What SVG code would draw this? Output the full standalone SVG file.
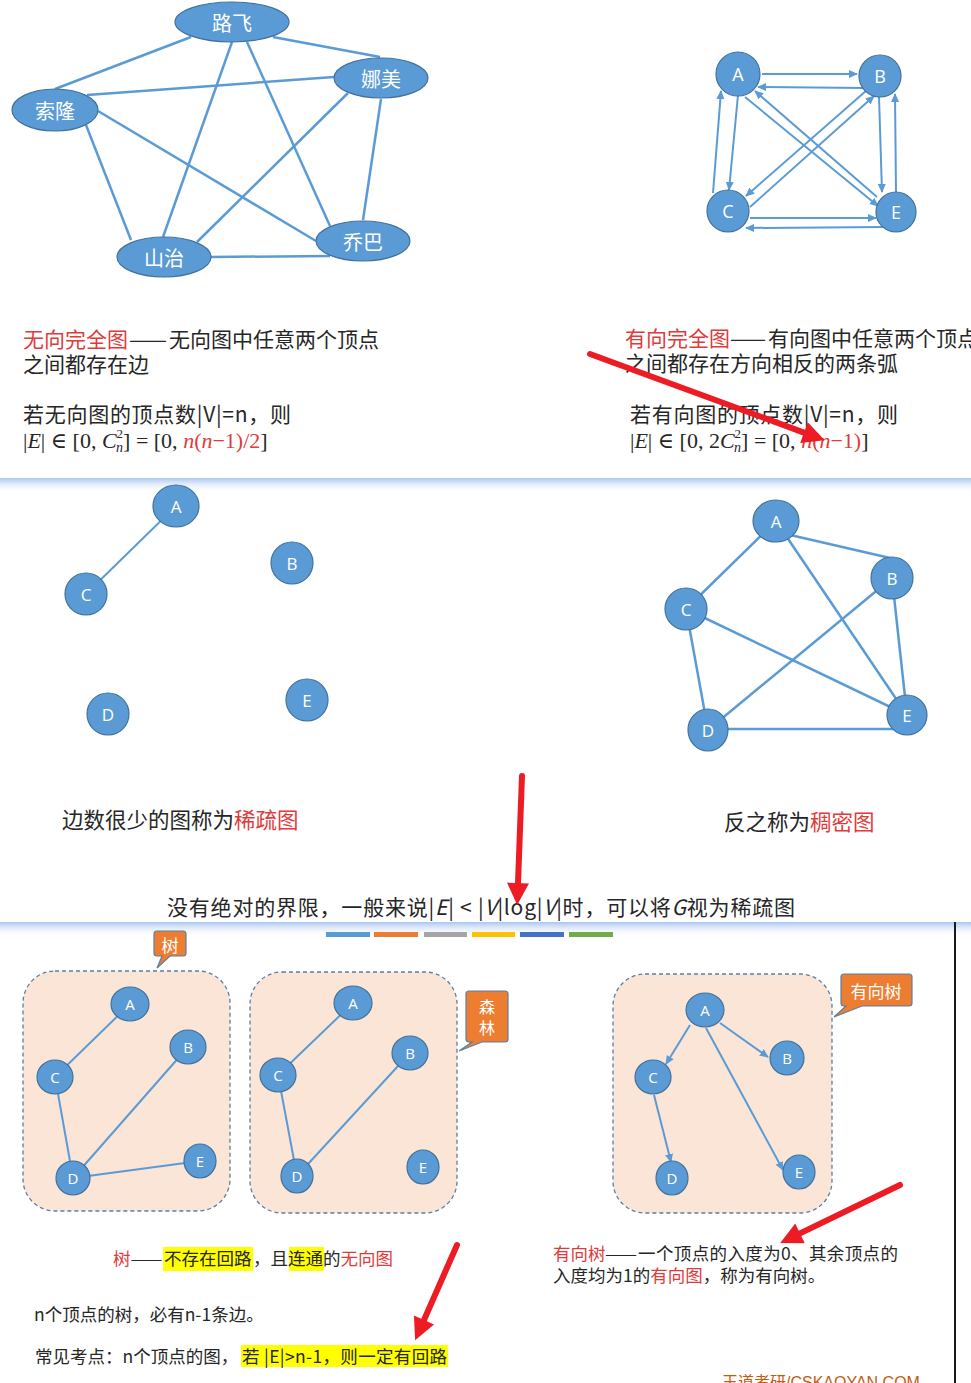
<svg xmlns="http://www.w3.org/2000/svg" width="971" height="1383" viewBox="0 0 971 1383">
<defs>
<style>
.cn{font-family:"Noto Sans CJK SC","Noto Sans",sans-serif;}
.e{stroke:#5B9BD5;stroke-width:2.5;fill:none;}
.e2{stroke:#5B9BD5;stroke-width:2;fill:none;}
.nd{fill:#5B9BD5;stroke:#41719C;stroke-width:1.2;}
.lbl{fill:#FFFFFF;font-family:"Noto Sans CJK SC","Noto Sans",sans-serif;text-anchor:middle;dominant-baseline:central;}
.ltr{fill:#FFFFFF;font-family:"Open Sans","Liberation Sans",sans-serif;text-anchor:middle;dominant-baseline:central;}
.red{fill:#E03A3A;}
.dk{fill:#262626;}
.box{fill:#FBE5D6;stroke:#5A7FA6;stroke-width:1.3;stroke-dasharray:4 3;}
.call{fill:#ED7D31;stroke:#5A7FA6;stroke-width:1.2;}
.ra{stroke:#ED1C24;stroke-width:6;stroke-linecap:round;fill:none;}
.hl{fill:#FFFF00;}
</style>
<marker id="ah" viewBox="0 0 10 10" refX="9" refY="5" markerWidth="9" markerHeight="9" markerUnits="userSpaceOnUse" orient="auto"><path d="M0,0.5 L10,5 L0,9.5 z" fill="#5B9BD5"/></marker>
<marker id="rh" viewBox="0 0 10 10" refX="0" refY="5" markerWidth="24" markerHeight="22" markerUnits="userSpaceOnUse" orient="auto"><path d="M0,0 L10,5 L0,10 z" fill="#ED1C24"/></marker>
<linearGradient id="sep" x1="0" y1="0" x2="0" y2="1"><stop offset="0" stop-color="#A9C5EE"/><stop offset="1" stop-color="#FFFFFF" stop-opacity="0"/></linearGradient>
</defs>
<rect x="0" y="0" width="971" height="1383" fill="#FFFFFF"/>

<!-- separators -->
<rect x="0" y="478" width="971" height="15" fill="url(#sep)"/>
<rect x="0" y="922" width="971" height="15" fill="url(#sep)"/>
<line x1="955" y1="922" x2="955" y2="1383" stroke="#1A1A1A" stroke-width="2"/>
<g id="bars">
<rect x="326" y="932" width="44" height="5" fill="#5B9BD5"/>
<rect x="374" y="932" width="44" height="5" fill="#ED7D31"/>
<rect x="424" y="932" width="43" height="5" fill="#A5A5A5"/>
<rect x="472" y="932" width="43" height="5" fill="#FFC000"/>
<rect x="520" y="932" width="44" height="5" fill="#4472C4"/>
<rect x="569" y="932" width="44" height="5" fill="#70AD47"/>
</g>

<!-- dashed boxes and callouts -->
<rect class="box" x="23" y="971" width="207" height="240" rx="32"/>
<rect class="box" x="250" y="972" width="207" height="241" rx="32"/>
<rect class="box" x="613" y="974" width="219" height="239" rx="32"/>
<g id="callout-shu">
<path class="call" d="M157,931 H183 Q186,931 186,934 V953 Q186,956 183,956 H170 L157,968 L162,956 H157 Q154,956 154,953 V934 Q154,931 157,931 Z"/>
<text class="lbl" x="170" y="944" font-size="17">树</text>
</g>
<g id="callout-senlin">
<path class="call" d="M469,991 H505 Q508,991 508,994 V1039 Q508,1042 505,1042 H482 L459,1051 L472,1042 H469 Q466,1042 466,1039 V994 Q466,991 469,991 Z"/>
<text class="lbl" x="487" y="1006" font-size="16">森</text>
<text class="lbl" x="487" y="1027" font-size="16">林</text>
</g>
<g id="callout-youxiangshu">
<path class="call" d="M844,974 H909 Q912,974 912,977 V1003 Q912,1006 909,1006 H862 L834,1017 L846,1006 H844 Q841,1006 841,1003 V977 Q841,974 844,974 Z"/>
<text class="lbl" x="876" y="990" font-size="17">有向树</text>
</g>

<g id="connectors">
<!-- top-left undirected complete graph -->
<line class="e" x1="191" y1="37" x2="55" y2="89"/>
<line class="e" x1="273" y1="37" x2="380" y2="57"/>
<line class="e" x1="232" y1="42" x2="163" y2="237"/>
<line class="e" x1="247" y1="42" x2="330" y2="226"/>
<line class="e" x1="87" y1="95" x2="334" y2="77"/>
<line class="e" x1="98" y1="111" x2="316" y2="241"/>
<line class="e" x1="86" y1="125" x2="131" y2="240"/>
<line class="e" x1="348" y1="93" x2="197" y2="242"/>
<line class="e" x1="381" y1="99" x2="363" y2="220"/>
<line class="e" x1="211" y1="257" x2="330" y2="256"/>
<!-- top-right directed complete graph -->
<line class="e2" x1="762" y1="74" x2="857" y2="74" marker-end="url(#ah)"/>
<line class="e2" x1="865" y1="88" x2="758" y2="87" marker-end="url(#ah)"/>
<line class="e2" x1="738" y1="95" x2="729" y2="190" marker-end="url(#ah)"/>
<line class="e2" x1="713" y1="193" x2="721" y2="91" marker-end="url(#ah)"/>
<line class="e2" x1="879" y1="97" x2="882" y2="192" marker-end="url(#ah)"/>
<line class="e2" x1="896" y1="192" x2="895" y2="94" marker-end="url(#ah)"/>
<line class="e2" x1="750" y1="218" x2="876" y2="218" marker-end="url(#ah)"/>
<line class="e2" x1="883" y1="227" x2="746" y2="228" marker-end="url(#ah)"/>
<line class="e2" x1="745" y1="97" x2="878" y2="206" marker-end="url(#ah)"/>
<line class="e2" x1="877" y1="197" x2="755" y2="91" marker-end="url(#ah)"/>
<line class="e2" x1="867" y1="90" x2="746" y2="196" marker-end="url(#ah)"/>
<line class="e2" x1="750" y1="207" x2="874" y2="96" marker-end="url(#ah)"/>
<!-- sparse graph -->
<line class="e2" x1="176" y1="506" x2="86" y2="594"/>
<!-- dense graph -->
<line class="e" x1="786" y1="534" x2="890" y2="558"/>
<line class="e" x1="776" y1="521" x2="686" y2="609"/>
<line class="e" x1="776" y1="521" x2="907" y2="715"/>
<line class="e" x1="686" y1="609" x2="907" y2="715"/>
<line class="e" x1="686" y1="609" x2="708" y2="730"/>
<line class="e" x1="892" y1="578" x2="708" y2="730"/>
<line class="e" x1="892" y1="578" x2="907" y2="715"/>
<line class="e" x1="708" y1="729" x2="895" y2="729"/>
<!-- tree -->
<line class="e2" x1="130" y1="1004" x2="55" y2="1077"/>
<line class="e2" x1="55" y1="1077" x2="73" y2="1178"/>
<line class="e2" x1="73" y1="1178" x2="188" y2="1047"/>
<line class="e2" x1="73" y1="1178" x2="200" y2="1161"/>
<!-- forest -->
<line class="e2" x1="353" y1="1003" x2="278" y2="1075"/>
<line class="e2" x1="278" y1="1075" x2="297" y2="1176"/>
<line class="e2" x1="297" y1="1176" x2="410" y2="1053"/>
<!-- directed tree -->
<line class="e2" x1="690" y1="1025" x2="666" y2="1064" marker-end="url(#ah)"/>
<line class="e2" x1="720" y1="1023" x2="768" y2="1057" marker-end="url(#ah)"/>
<line class="e2" x1="706" y1="1028" x2="783" y2="1170" marker-end="url(#ah)"/>
<line class="e2" x1="654" y1="1095" x2="671" y2="1162" marker-end="url(#ah)"/>
</g>

<!-- top-left nodes -->
<g id="n-lufei"><ellipse class="nd" cx="232" cy="22" rx="57" ry="20"/><text class="lbl" x="232" y="22" font-size="20">路飞</text></g>
<g id="n-namei"><ellipse class="nd" cx="381" cy="78" rx="47" ry="20"/><text class="lbl" x="381" y="78" font-size="20">娜美</text></g>
<g id="n-suolong"><ellipse class="nd" cx="55" cy="110" rx="43" ry="21"/><text class="lbl" x="55" y="110" font-size="20">索隆</text></g>
<g id="n-shanzhi"><ellipse class="nd" cx="164" cy="257" rx="47" ry="20"/><text class="lbl" x="164" y="257" font-size="20">山治</text></g>
<g id="n-qiaoba"><ellipse class="nd" cx="363" cy="241" rx="47" ry="20"/><text class="lbl" x="363" y="241" font-size="20">乔巴</text></g>

<!-- top-right nodes -->
<g id="d-A"><circle class="nd" cx="738" cy="74" r="22"/><text class="ltr" x="738" y="74" font-size="18">A</text></g>
<g id="d-B"><circle class="nd" cx="880" cy="76" r="21"/><text class="ltr" x="880" y="76" font-size="18">B</text></g>
<g id="d-C"><circle class="nd" cx="728" cy="211" r="21"/><text class="ltr" x="728" y="211" font-size="18">C</text></g>
<g id="d-E"><circle class="nd" cx="896" cy="212" r="20"/><text class="ltr" x="896" y="212" font-size="18">E</text></g>

<!-- sparse graph nodes -->
<g id="s-A"><ellipse class="nd" cx="176" cy="506" rx="23" ry="21"/><text class="ltr" x="176" y="506" font-size="17">A</text></g>
<g id="s-B"><ellipse class="nd" cx="292" cy="563" rx="21" ry="21"/><text class="ltr" x="292" y="563" font-size="17">B</text></g>
<g id="s-C"><ellipse class="nd" cx="86" cy="594" rx="21" ry="21"/><text class="ltr" x="86" y="594" font-size="17">C</text></g>
<g id="s-D"><ellipse class="nd" cx="108" cy="714" rx="21" ry="21"/><text class="ltr" x="108" y="714" font-size="17">D</text></g>
<g id="s-E"><ellipse class="nd" cx="307" cy="700" rx="21" ry="21"/><text class="ltr" x="307" y="700" font-size="17">E</text></g>

<!-- dense graph nodes -->
<g id="g-A"><ellipse class="nd" cx="776" cy="521" rx="23" ry="21"/><text class="ltr" x="776" y="521" font-size="17">A</text></g>
<g id="g-B"><ellipse class="nd" cx="892" cy="578" rx="21" ry="21"/><text class="ltr" x="892" y="578" font-size="17">B</text></g>
<g id="g-C"><ellipse class="nd" cx="686" cy="609" rx="21" ry="21"/><text class="ltr" x="686" y="609" font-size="17">C</text></g>
<g id="g-D"><ellipse class="nd" cx="708" cy="730" rx="20" ry="21"/><text class="ltr" x="708" y="730" font-size="17">D</text></g>
<g id="g-E"><ellipse class="nd" cx="907" cy="715" rx="20" ry="20"/><text class="ltr" x="907" y="715" font-size="17">E</text></g>

<!-- tree nodes -->
<g id="t-A"><ellipse class="nd" cx="130" cy="1004" rx="19" ry="17"/><text class="ltr" x="130" y="1004" font-size="15">A</text></g>
<g id="t-B"><ellipse class="nd" cx="188" cy="1047" rx="18" ry="17"/><text class="ltr" x="188" y="1047" font-size="15">B</text></g>
<g id="t-C"><ellipse class="nd" cx="55" cy="1077" rx="18" ry="17"/><text class="ltr" x="55" y="1077" font-size="15">C</text></g>
<g id="t-D"><ellipse class="nd" cx="73" cy="1178" rx="17" ry="17"/><text class="ltr" x="73" y="1178" font-size="15">D</text></g>
<g id="t-E"><ellipse class="nd" cx="200" cy="1161" rx="16" ry="17"/><text class="ltr" x="200" y="1161" font-size="15">E</text></g>

<!-- forest nodes -->
<g id="f-A"><ellipse class="nd" cx="353" cy="1003" rx="19" ry="17"/><text class="ltr" x="353" y="1003" font-size="15">A</text></g>
<g id="f-B"><ellipse class="nd" cx="410" cy="1053" rx="18" ry="17"/><text class="ltr" x="410" y="1053" font-size="15">B</text></g>
<g id="f-C"><ellipse class="nd" cx="278" cy="1075" rx="18" ry="17"/><text class="ltr" x="278" y="1075" font-size="15">C</text></g>
<g id="f-D"><ellipse class="nd" cx="297" cy="1176" rx="16" ry="17"/><text class="ltr" x="297" y="1176" font-size="15">D</text></g>
<g id="f-E"><ellipse class="nd" cx="423" cy="1167" rx="16" ry="17"/><text class="ltr" x="423" y="1167" font-size="15">E</text></g>

<!-- directed tree nodes -->
<g id="dt-A"><ellipse class="nd" cx="705" cy="1010" rx="19" ry="17"/><text class="ltr" x="705" y="1010" font-size="15">A</text></g>
<g id="dt-B"><ellipse class="nd" cx="787" cy="1058" rx="17" ry="17"/><text class="ltr" x="787" y="1058" font-size="15">B</text></g>
<g id="dt-C"><ellipse class="nd" cx="653" cy="1077" rx="18" ry="17"/><text class="ltr" x="653" y="1077" font-size="15">C</text></g>
<g id="dt-D"><ellipse class="nd" cx="672" cy="1178" rx="16" ry="17"/><text class="ltr" x="672" y="1178" font-size="15">D</text></g>
<g id="dt-E"><ellipse class="nd" cx="799" cy="1172" rx="16" ry="17"/><text class="ltr" x="799" y="1172" font-size="15">E</text></g>

<!-- texts: slide 1 -->
<g id="txt-left" class="cn dk" font-size="21">
<text x="23" y="347" class="red">无向完全图</text>
<text x="129" y="347" textLength="38" lengthAdjust="spacingAndGlyphs">——</text>
<text x="169" y="347">无向图中任意两个顶点</text>
<text x="23" y="372">之间都存在边</text>
<text x="23" y="422" textLength="268" lengthAdjust="spacing">若无向图的顶点数|V|=n，则</text>
<text x="23" y="448" font-family="'Liberation Serif','DejaVu Serif',serif" font-size="22">|<tspan font-style="italic">E</tspan>| ∈ [0, <tspan font-style="italic">C</tspan><tspan font-size="13" dy="-10">2</tspan><tspan font-size="14" font-style="italic" dx="-7" dy="14">n</tspan><tspan dy="-4">] = [0, </tspan><tspan class="red" font-style="italic">n</tspan><tspan class="red">(</tspan><tspan class="red" font-style="italic">n</tspan><tspan class="red">−1)/2</tspan>]</text>
</g>
<g id="txt-right" class="cn dk" font-size="21">
<text x="625" y="346" class="red">有向完全图</text>
<text x="730" y="346" textLength="36" lengthAdjust="spacingAndGlyphs">——</text>
<text x="768" y="346">有向图中任意两个顶点</text>
<text x="625" y="371">之间都存在方向相反的两条弧</text>
<text x="630" y="422" textLength="268" lengthAdjust="spacing">若有向图的顶点数|V|=n，则</text>
<text x="630" y="448" font-family="'Liberation Serif','DejaVu Serif',serif" font-size="22">|<tspan font-style="italic">E</tspan>| ∈ [0, 2<tspan font-style="italic">C</tspan><tspan font-size="13" dy="-10">2</tspan><tspan font-size="14" font-style="italic" dx="-7" dy="14">n</tspan><tspan dy="-4">] = [0, </tspan><tspan class="red" font-style="italic">n</tspan><tspan class="red">(</tspan><tspan class="red" font-style="italic">n</tspan><tspan class="red">−1)</tspan>]</text>
</g>

<!-- texts: slide 2 -->
<text class="cn dk" x="62" y="828" font-size="21.5">边数很少的图称为<tspan class="red">稀疏图</tspan></text>
<text class="cn dk" x="724" y="830" font-size="21.5">反之称为<tspan class="red">稠密图</tspan></text>
<text class="cn dk" x="167" y="915" font-size="21" textLength="628" lengthAdjust="spacing">没有绝对的界限，一般来说|<tspan font-style="italic">E</tspan>| &lt; |<tspan font-style="italic">V</tspan>|log|<tspan font-style="italic">V</tspan>|时，可以将<tspan font-style="italic">G</tspan>视为稀疏图</text>

<!-- texts: slide 3 -->
<rect class="hl" x="163" y="1247" width="90" height="24"/>
<rect class="hl" x="289" y="1247" width="35" height="24"/>
<g class="cn dk" font-size="17.5">
<text x="113" y="1265" class="red">树</text>
<text x="130.5" y="1265" textLength="32" lengthAdjust="spacingAndGlyphs">——</text>
<text y="1265"><tspan x="164">不存在回路</tspan><tspan x="253">，</tspan><tspan x="270.5">且</tspan><tspan x="288">连通</tspan><tspan x="323">的</tspan><tspan x="340.5" class="red">无向图</tspan></text>
</g>

<g class="cn dk" font-size="17.5">
<text x="553" y="1260" class="red">有向树</text>
<text x="605" y="1260" textLength="32" lengthAdjust="spacingAndGlyphs">——</text>
<text x="638" y="1260" textLength="260" lengthAdjust="spacing">一个顶点的入度为0、其余顶点的</text>
<text x="553" y="1282">入度均为1的<tspan class="red">有向图</tspan>，称为有向树。</text>
</g>

<text class="cn dk" x="34" y="1321" font-size="17.5">n个顶点的树，必有n-1条边。</text>
<rect class="hl" x="241" y="1345" width="207" height="22"/>
<text class="cn dk" x="35" y="1363" font-size="17.5">常见考点：n个顶点的图，</text>
<text class="cn dk" x="242" y="1363" font-size="17.5" textLength="205" lengthAdjust="spacing">若 |E|&gt;n-1，则一定有回路</text>

<text x="722" y="1388" font-family="'Liberation Sans','Noto Sans CJK SC',sans-serif" font-size="16" fill="#C55A11">王道考研/CSKAOYAN.COM</text>

<!-- red annotation arrows -->
<g id="red-arrows">
<line class="ra" x1="590" y1="354" x2="804" y2="432.6" marker-end="url(#rh)"/>
<line class="ra" x1="522" y1="776" x2="518" y2="883" marker-end="url(#rh)"/>
<line class="ra" x1="900" y1="1185" x2="800" y2="1233.4" marker-end="url(#rh)"/>
<line class="ra" x1="457" y1="1245" x2="424" y2="1320" marker-end="url(#rh)"/>
</g>
</svg>
